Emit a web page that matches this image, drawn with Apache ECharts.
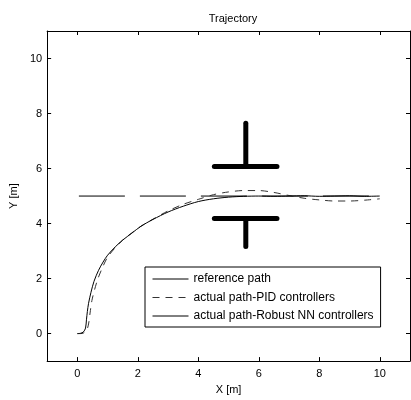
<!DOCTYPE html>
<html><head><meta charset="utf-8">
<script src="https://cdn.jsdelivr.net/npm/echarts@6/dist/echarts.min.js"></script>
<style>html,body{margin:0;padding:0;background:#fff}#c{width:411px;height:400px}</style>
</head><body><div id="c"></div>
<script>
const titleText = 'Trajectory';
const xName = 'X [m]';
const yName = 'Y [m]';
const xTicks = [0, 2, 4, 6, 8, 10];
const yTicks = [0, 2, 4, 6, 8, 10];
const seriesNames = ['reference path', 'actual path-PID controllers', 'actual path-Robust NN controllers'];

const refPath = [[0.05, 5], [10, 5]];
const pidPath = [[0,0],[0.1,0.0],[0.2,0.02],[0.3,0.1],[0.37,0.35],[0.42,0.75],[0.48,1.2],[0.57,1.6],[0.68,2.0],[0.85,2.45],[1.0,2.78],[1.25,3.12],[1.5,3.4],[1.8,3.66],[2.1,3.9],[2.5,4.16],[3.0,4.46],[3.5,4.7],[4.0,4.88],[4.5,5.05],[5.0,5.15],[5.5,5.2],[6.0,5.2],[6.5,5.13],[7.0,5.02],[7.5,4.92],[8.0,4.86],[8.5,4.82],[9.0,4.82],[9.5,4.85],[10,4.9]];
const nnPath = [[0,0],[0.1,0.01],[0.2,0.06],[0.27,0.2],[0.3,0.5],[0.33,0.8],[0.37,1.1],[0.45,1.5],[0.55,1.9],[0.7,2.3],[0.85,2.6],[1.0,2.85],[1.25,3.15],[1.5,3.4],[1.8,3.65],[2.1,3.9],[2.5,4.15],[3.0,4.42],[3.5,4.63],[4.0,4.8],[4.5,4.9],[5.0,4.96],[5.5,4.99],[6,5.0],[6.5,4.99],[7,5.0],[7.5,5.01],[8,4.99],[8.5,5.0],[9,5.01],[9.5,4.99],[10,5.0]];
const obstacleTopV = [[5.57,7.65],[5.57,6.07]];
const obstacleTopH = [[4.53,6.07],[6.6,6.07]];
const obstacleBotH = [[4.53,4.18],[6.6,4.18]];
const obstacleBotV = [[5.57,4.18],[5.57,3.17]];

const font = 'Liberation Sans, Arial, sans-serif';
const chart = echarts.init(document.getElementById('c'), null, {renderer:'canvas'});
const axBase = {
  type:'value', min:-1, max:11,
  axisLine:{show:true, onZero:false, lineStyle:{color:'#000', width:1}},
  axisTick:{show:true, inside:true, length:4, lineStyle:{color:'#000'}},
  splitLine:{show:false}
};
function obst(d){
  return {type:'line', data:d, symbol:'none', silent:true, z:3,
    lineStyle:{color:'#000', width:5, cap:'round'}};
}
chart.setOption({
  animation:false,
  backgroundColor:'#fff',
  title:{text:titleText, left:228, textAlign:'center', top:8,
    textStyle:{fontFamily:font, fontSize:11, fontWeight:'normal', color:'#000'}},
  grid:{left:46, top:31, right:1, bottom:32},
  legend:{
    data:seriesNames, orient:'vertical', left:145, top:267,
    padding:[5,7,4,7], itemGap:4.5, itemWidth:36, itemHeight:10,
    borderColor:'#000', borderWidth:1, backgroundColor:'#fff',
    itemStyle:{opacity:0},
    lineStyle:{width:1},
    textStyle:{fontFamily:font, fontSize:12, color:'#000', lineHeight:14},
    selectedMode:false
  },
  xAxis:[
    Object.assign({}, axBase, {position:'bottom', name:xName, nameLocation:'middle', nameGap:22,
      nameTextStyle:{fontFamily:font, fontSize:11, color:'#000'},
      axisTick:{show:true, inside:true, length:4, customValues:xTicks, lineStyle:{color:'#000'}},
      axisLabel:{show:true, customValues:xTicks, margin:7, fontFamily:font, fontSize:11, color:'#000'}}),
    Object.assign({}, axBase, {position:'top',
      axisTick:{show:true, inside:true, length:4, customValues:xTicks, lineStyle:{color:'#000'}},
      axisLabel:{show:false}})
  ],
  yAxis:[
    Object.assign({}, axBase, {position:'left', name:yName, nameLocation:'middle', nameGap:26,
      nameTextStyle:{fontFamily:font, fontSize:11, color:'#000'},
      axisTick:{show:true, inside:true, length:4, customValues:yTicks, lineStyle:{color:'#000'}},
      axisLabel:{show:true, customValues:yTicks, margin:5, fontFamily:font, fontSize:11, color:'#000'}}),
    Object.assign({}, axBase, {position:'right',
      axisTick:{show:true, inside:true, length:4, customValues:yTicks, lineStyle:{color:'#000'}},
      axisLabel:{show:false}})
  ],
  series:[
    {name:seriesNames[0], type:'line', data:refPath, symbol:'none', z:2,
      lineStyle:{color:'#000', width:1, type:[46,15]}, itemStyle:{color:'#000'}},
    {name:seriesNames[1], type:'line', data:pidPath, symbol:'none', smooth:0.3, z:2,
      lineStyle:{color:'#333', width:1, type:[7,6]}, itemStyle:{color:'#333'}},
    {name:seriesNames[2], type:'line', data:nnPath, symbol:'none', smooth:0.3, z:2,
      lineStyle:{color:'#000', width:1}, itemStyle:{color:'#000'}},
    obst(obstacleTopV), obst(obstacleTopH), obst(obstacleBotH), obst(obstacleBotV)
  ]
});
</script></body></html>
